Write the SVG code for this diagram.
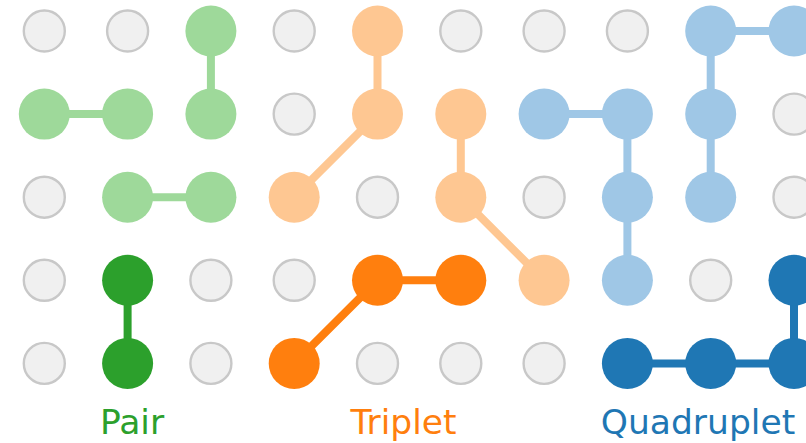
<svg xmlns="http://www.w3.org/2000/svg" width="806" height="443" viewBox="0 0 806 443">
<style>
.bg{fill:#f0f0f0;stroke:#c8c8c8;stroke-width:2.4}
.lg{fill:#9ed99a}.dg{fill:#2ca02c}
.lo{fill:#fec792}.do{fill:#ff7f0e}
.lb{fill:#9fc7e6}.db{fill:#1f77b4}
.c{stroke-width:8;fill:none;stroke-linecap:butt}
.clg{stroke:#9ed99a}.cdg{stroke:#2ca02c}
.clo{stroke:#fec792}.cdo{stroke:#ff7f0e}
.clb{stroke:#9fc7e6}.cdb{stroke:#1f77b4}
text{font-family:"DejaVu Sans","Liberation Sans",sans-serif;font-size:34.5px;text-anchor:middle}
</style>
<rect width="806" height="443" fill="#ffffff"/>
<g id="connectors">
<line class="c clg" x1="44.3" y1="114.1" x2="127.6" y2="114.1"/>
<line class="c clg" x1="210.9" y1="31" x2="210.9" y2="114.1"/>
<line class="c clg" x1="127.6" y1="197.2" x2="210.9" y2="197.2"/>
<line class="c cdg" x1="127.6" y1="280.3" x2="127.6" y2="363.4"/>
<polyline class="c clo" points="377.5,31 377.5,114.1 294.2,197.2"/>
<polyline class="c clo" points="460.8,114.1 460.8,197.2 544.1,280.3"/>
<polyline class="c cdo" points="294.2,363.4 377.5,280.3 460.8,280.3"/>
<polyline class="c clb" points="544.1,114.1 627.4,114.1 627.4,197.2 627.4,280.3"/>
<polyline class="c clb" points="794,31 710.7,31 710.7,114.1 710.7,197.2"/>
<polyline class="c cdb" points="627.4,363.4 710.7,363.4 794,363.4 794,280.3"/>
</g>
<g id="n-0-0"><circle class="bg" cx="44.3" cy="31" r="20.5"/></g>
<g id="n-1-0"><circle class="bg" cx="127.6" cy="31" r="20.5"/></g>
<g id="n-2-0"><circle class="lg" cx="210.9" cy="31" r="25.5"/></g>
<g id="n-3-0"><circle class="bg" cx="294.2" cy="31" r="20.5"/></g>
<g id="n-4-0"><circle class="lo" cx="377.5" cy="31" r="25.5"/></g>
<g id="n-5-0"><circle class="bg" cx="460.8" cy="31" r="20.5"/></g>
<g id="n-6-0"><circle class="bg" cx="544.1" cy="31" r="20.5"/></g>
<g id="n-7-0"><circle class="bg" cx="627.4" cy="31" r="20.5"/></g>
<g id="n-8-0"><circle class="lb" cx="710.7" cy="31" r="25.5"/></g>
<g id="n-9-0"><circle class="lb" cx="794" cy="31" r="25.5"/></g>

<g id="n-0-1"><circle class="lg" cx="44.3" cy="114.1" r="25.5"/></g>
<g id="n-1-1"><circle class="lg" cx="127.6" cy="114.1" r="25.5"/></g>
<g id="n-2-1"><circle class="lg" cx="210.9" cy="114.1" r="25.5"/></g>
<g id="n-3-1"><circle class="bg" cx="294.2" cy="114.1" r="20.5"/></g>
<g id="n-4-1"><circle class="lo" cx="377.5" cy="114.1" r="25.5"/></g>
<g id="n-5-1"><circle class="lo" cx="460.8" cy="114.1" r="25.5"/></g>
<g id="n-6-1"><circle class="lb" cx="544.1" cy="114.1" r="25.5"/></g>
<g id="n-7-1"><circle class="lb" cx="627.4" cy="114.1" r="25.5"/></g>
<g id="n-8-1"><circle class="lb" cx="710.7" cy="114.1" r="25.5"/></g>
<g id="n-9-1"><circle class="bg" cx="794" cy="114.1" r="20.5"/></g>

<g id="n-0-2"><circle class="bg" cx="44.3" cy="197.2" r="20.5"/></g>
<g id="n-1-2"><circle class="lg" cx="127.6" cy="197.2" r="25.5"/></g>
<g id="n-2-2"><circle class="lg" cx="210.9" cy="197.2" r="25.5"/></g>
<g id="n-3-2"><circle class="lo" cx="294.2" cy="197.2" r="25.5"/></g>
<g id="n-4-2"><circle class="bg" cx="377.5" cy="197.2" r="20.5"/></g>
<g id="n-5-2"><circle class="lo" cx="460.8" cy="197.2" r="25.5"/></g>
<g id="n-6-2"><circle class="bg" cx="544.1" cy="197.2" r="20.5"/></g>
<g id="n-7-2"><circle class="lb" cx="627.4" cy="197.2" r="25.5"/></g>
<g id="n-8-2"><circle class="lb" cx="710.7" cy="197.2" r="25.5"/></g>
<g id="n-9-2"><circle class="bg" cx="794" cy="197.2" r="20.5"/></g>

<g id="n-0-3"><circle class="bg" cx="44.3" cy="280.3" r="20.5"/></g>
<g id="n-1-3"><circle class="dg" cx="127.6" cy="280.3" r="25.5"/></g>
<g id="n-2-3"><circle class="bg" cx="210.9" cy="280.3" r="20.5"/></g>
<g id="n-3-3"><circle class="bg" cx="294.2" cy="280.3" r="20.5"/></g>
<g id="n-4-3"><circle class="do" cx="377.5" cy="280.3" r="25.5"/></g>
<g id="n-5-3"><circle class="do" cx="460.8" cy="280.3" r="25.5"/></g>
<g id="n-6-3"><circle class="lo" cx="544.1" cy="280.3" r="25.5"/></g>
<g id="n-7-3"><circle class="lb" cx="627.4" cy="280.3" r="25.5"/></g>
<g id="n-8-3"><circle class="bg" cx="710.7" cy="280.3" r="20.5"/></g>
<g id="n-9-3"><circle class="db" cx="794" cy="280.3" r="25.5"/></g>

<g id="n-0-4"><circle class="bg" cx="44.3" cy="363.4" r="20.5"/></g>
<g id="n-1-4"><circle class="dg" cx="127.6" cy="363.4" r="25.5"/></g>
<g id="n-2-4"><circle class="bg" cx="210.9" cy="363.4" r="20.5"/></g>
<g id="n-3-4"><circle class="do" cx="294.2" cy="363.4" r="25.5"/></g>
<g id="n-4-4"><circle class="bg" cx="377.5" cy="363.4" r="20.5"/></g>
<g id="n-5-4"><circle class="bg" cx="460.8" cy="363.4" r="20.5"/></g>
<g id="n-6-4"><circle class="bg" cx="544.1" cy="363.4" r="20.5"/></g>
<g id="n-7-4"><circle class="db" cx="627.4" cy="363.4" r="25.5"/></g>
<g id="n-8-4"><circle class="db" cx="710.7" cy="363.4" r="25.5"/></g>
<g id="n-9-4"><circle class="db" cx="794" cy="363.4" r="25.5"/></g>

<g id="labels">
<text x="132" y="434" fill="#2ca02c">Pair</text>
<text x="403.5" y="434" fill="#ff7f0e">Triplet</text>
<text x="698" y="434" fill="#1f77b4">Quadruplet</text>
</g>
</svg>
